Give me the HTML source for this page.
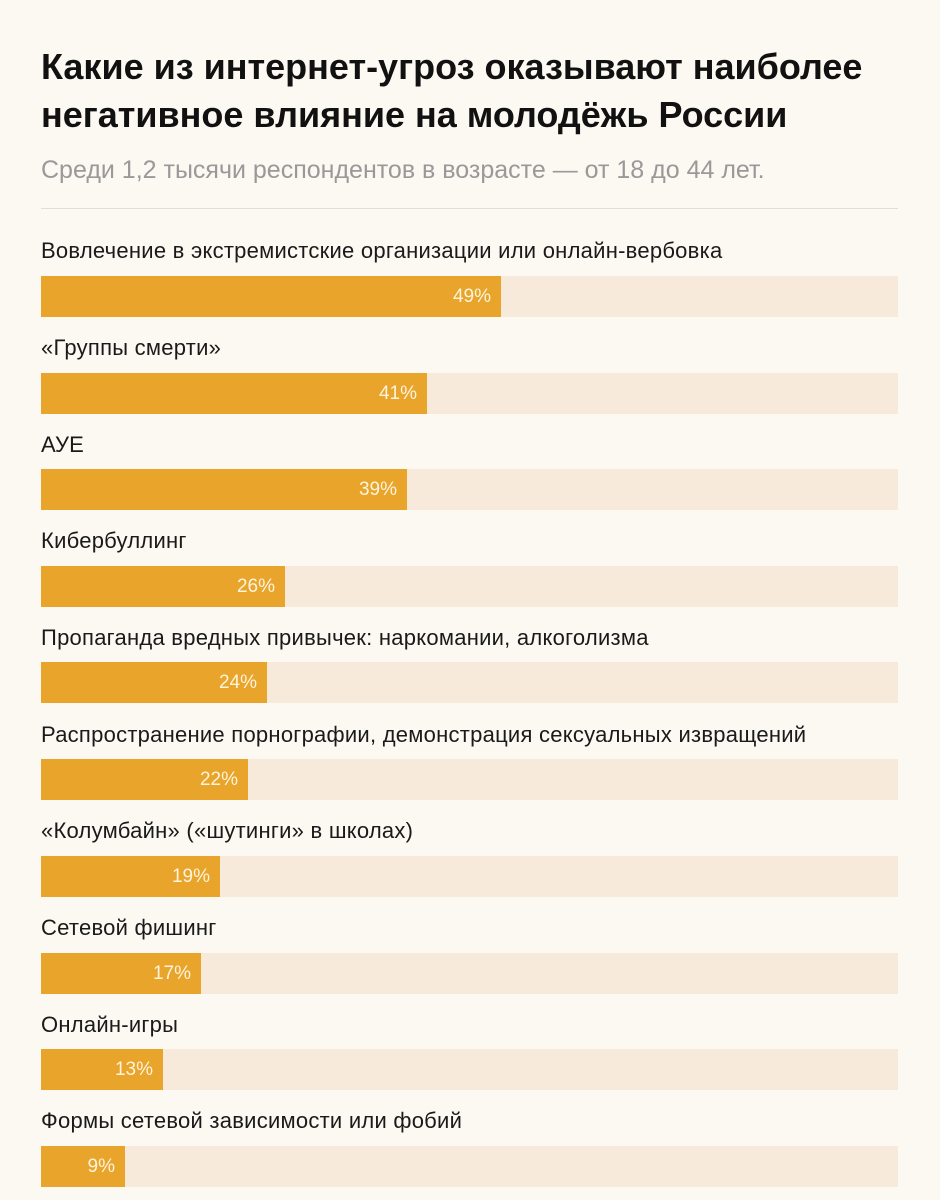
<!DOCTYPE html>
<html><head><meta charset="utf-8"><style>
html,body{margin:0;padding:0}
body{width:940px;height:1200px;background:#FCF8F2;position:relative;overflow:hidden;font-family:"Liberation Sans",Arial,sans-serif}
.t{position:absolute;left:41px;top:43px;font-size:36px;font-weight:bold;line-height:48px;color:#111;white-space:nowrap}
.s{position:absolute;left:41px;top:156px;font-size:25px;line-height:28px;color:#999;white-space:nowrap}
.hr{position:absolute;left:41px;width:857px;top:208px;height:1px;background:#E2DDD5}
.l{position:absolute;left:41px;font-size:22px;letter-spacing:0.25px;line-height:24px;color:#1a1a1a;white-space:nowrap}
.tr{position:absolute;left:41px;width:857px;height:41px;background:#F7EADA}
.b{position:absolute;left:0;top:0;height:41px;background:#E8A42B}
.b span{position:absolute;right:10px;top:0;line-height:41px;font-size:19px;color:#FFF4DC}
</style></head><body>
<div class="t">Какие из интернет-угроз оказывают наиболее<br>негативное влияние на молодёжь России</div>
<div class="s">Среди 1,2 тысячи респондентов в возрасте — от 18 до 44 лет.</div>
<div class="hr"></div>

<div class="l" style="top:239px">Вовлечение в экстремистские организации или онлайн-вербовка</div>
<div class="tr" style="top:276px"><div class="b" style="width:460px"><span>49%</span></div></div>

<div class="l" style="top:336px">«Группы смерти»</div>
<div class="tr" style="top:373px"><div class="b" style="width:386px"><span>41%</span></div></div>

<div class="l" style="top:433px">АУЕ</div>
<div class="tr" style="top:469px"><div class="b" style="width:366px"><span>39%</span></div></div>

<div class="l" style="top:529px">Кибербуллинг</div>
<div class="tr" style="top:566px"><div class="b" style="width:244px"><span>26%</span></div></div>

<div class="l" style="top:626px">Пропаганда вредных привычек: наркомании, алкоголизма</div>
<div class="tr" style="top:662px"><div class="b" style="width:226px"><span>24%</span></div></div>

<div class="l" style="top:723px">Распространение порнографии, демонстрация сексуальных извращений</div>
<div class="tr" style="top:759px"><div class="b" style="width:207px"><span>22%</span></div></div>

<div class="l" style="top:819px">«Колумбайн» («шутинги» в школах)</div>
<div class="tr" style="top:856px"><div class="b" style="width:179px"><span>19%</span></div></div>

<div class="l" style="top:916px">Сетевой фишинг</div>
<div class="tr" style="top:953px"><div class="b" style="width:160px"><span>17%</span></div></div>

<div class="l" style="top:1013px">Онлайн-игры</div>
<div class="tr" style="top:1049px"><div class="b" style="width:122px"><span>13%</span></div></div>

<div class="l" style="top:1109px">Формы сетевой зависимости или фобий</div>
<div class="tr" style="top:1146px"><div class="b" style="width:84px"><span>9%</span></div></div>
</body></html>
